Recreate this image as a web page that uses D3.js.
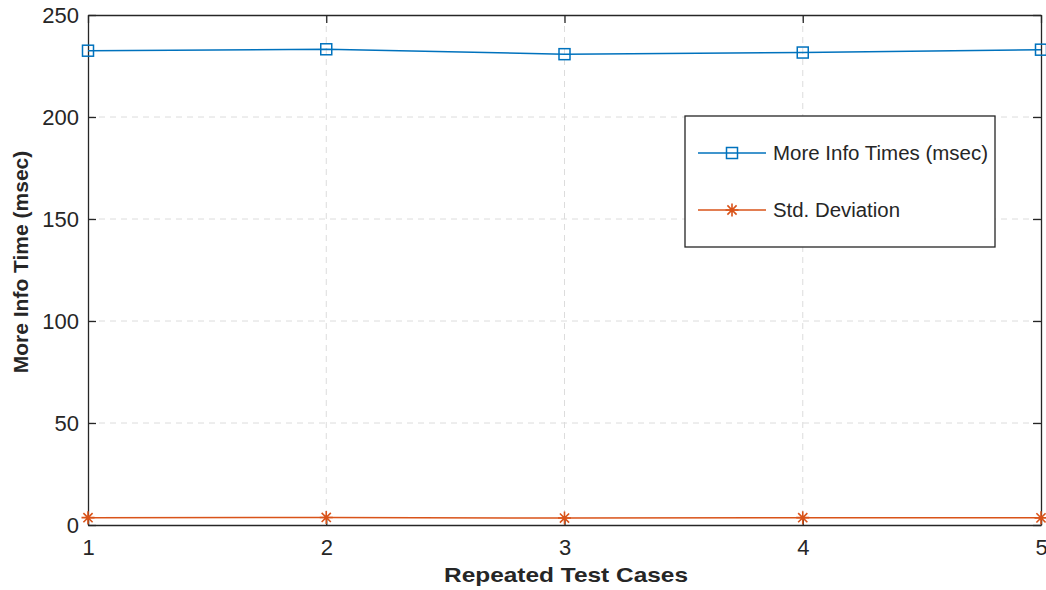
<!DOCTYPE html>
<html>
<head>
<meta charset="utf-8">
<script src="https://cdn.jsdelivr.net/npm/d3@7"></script>
<style>
  body { margin: 0; background: #fff; }
  text { font-family: "Liberation Sans", Arial, sans-serif; fill: #262626; }
</style>
</head>
<body>
<div id="chart"></div>
<script>
// data
var testCases = [1, 2, 3, 4, 5];
var moreInfoTimes = [232.5, 233.2, 230.8, 231.6, 233.0];
var stdDeviation = [3.6, 3.7, 3.4, 3.6, 3.5];
var yTicks = [0, 50, 100, 150, 200, 250];
var seriesNames = ["More Info Times (msec)", "Std. Deviation"];

var W = 1046, H = 590;
var margin = {left: 88, right: 5, top: 15, bottom: 65};
var width = W - margin.left - margin.right,
    height = H - margin.top - margin.bottom;

var svg = d3.select("#chart").append("svg")
    .attr("width", W).attr("height", H);
var g = svg.append("g").attr("transform", "translate(" + margin.left + "," + margin.top + ")");

var x = d3.scaleLinear().domain([1, 5]).range([0, width]);
var y = d3.scaleLinear().domain([0, 250]).range([height, 0]);

//grid
g.append("g").selectAll("line").data(testCases.slice(1, -1)).join("line")
  .attr("x1", d => x(d)).attr("x2", d => x(d))
  .attr("y1", 0).attr("y2", height)
  .attr("stroke", "#dcdcdc").attr("stroke-dasharray", "6,5");
g.append("g").selectAll("line").data(yTicks.slice(1, -1)).join("line")
  .attr("y1", d => y(d)).attr("y2", d => y(d))
  .attr("x1", 0).attr("x2", width)
  .attr("stroke", "#dcdcdc").attr("stroke-dasharray", "6,5");

//axes, MATLAB style with inner ticks on all sides
var tick = 8;
g.append("g").attr("transform", "translate(0," + height + ")")
  .call(d3.axisBottom(x).tickValues(testCases).tickSizeInner(-tick).tickSizeOuter(0).tickPadding(14).tickFormat(d3.format("d")));
g.append("g").attr("transform", "translate(0,0)")
  .call(d3.axisTop(x).tickValues(testCases).tickSizeInner(-tick).tickSizeOuter(0).tickFormat(""));
g.append("g")
  .call(d3.axisLeft(y).tickValues(yTicks).tickSizeInner(-tick).tickSizeOuter(0).tickPadding(9));
g.append("g").attr("transform", "translate(" + width + ",0)")
  .call(d3.axisRight(y).tickValues(yTicks).tickSizeInner(-tick).tickSizeOuter(0).tickFormat(""));

g.selectAll(".domain").attr("stroke", "#262626").attr("stroke-width", 1.3);
g.selectAll(".tick line").attr("stroke", "#262626").attr("stroke-width", 1.3);
g.selectAll(".tick text").attr("font-size", 22).attr("fill", "#262626")
  .attr("font-family", "Liberation Sans, Arial, sans-serif");

//lines
var blue = "#0072BD", orange = "#D95319";
var line = d3.line().x((d, i) => x(testCases[i])).y(d => y(d));

g.append("path").datum(moreInfoTimes).attr("d", line)
  .attr("fill", "none").attr("stroke", blue).attr("stroke-width", 1.5);
g.append("path").datum(stdDeviation).attr("d", line)
  .attr("fill", "none").attr("stroke", orange).attr("stroke-width", 1.5);

function square(sel, cx, cy) {
  sel.append("rect").attr("x", cx - 5.5).attr("y", cy - 5.5)
    .attr("width", 11).attr("height", 11)
    .attr("fill", "none").attr("stroke", blue).attr("stroke-width", 1.5);
}
function star(sel, cx, cy) {
  var r = 6.5, d = r * 0.707;
  var p = "M" + (cx - r) + "," + cy + "H" + (cx + r) +
          "M" + cx + "," + (cy - r) + "V" + (cy + r) +
          "M" + (cx - d) + "," + (cy - d) + "L" + (cx + d) + "," + (cy + d) +
          "M" + (cx - d) + "," + (cy + d) + "L" + (cx + d) + "," + (cy - d);
  sel.append("path").attr("d", p).attr("stroke", orange).attr("stroke-width", 1.6);
}
moreInfoTimes.forEach((v, i) => square(g, x(testCases[i]), y(v)));
stdDeviation.forEach((v, i) => star(g, x(testCases[i]), y(v)));

//labels
svg.append("text").attr("x", 566).attr("y", 582)
  .attr("text-anchor", "middle").attr("font-size", 21).attr("font-weight", "bold")
  .attr("textLength", 244).attr("lengthAdjust", "spacingAndGlyphs")
  .text("Repeated Test Cases");
svg.append("text").attr("transform", "translate(28,262) rotate(-90)")
  .attr("text-anchor", "middle").attr("font-size", 21).attr("font-weight", "bold")
  .text("More Info Time (msec)");

//legend
var lg = svg.append("g").attr("transform", "translate(685,116)");
lg.append("rect").attr("width", 310).attr("height", 131)
  .attr("fill", "#fff").attr("stroke", "#262626").attr("stroke-width", 1.3);
var rows = [37, 94];
var textW = [215, 127];
[0, 1].forEach(function (i) {
  var col = i == 0 ? blue : orange;
  lg.append("line").attr("x1", 13).attr("x2", 81).attr("y1", rows[i]).attr("y2", rows[i])
    .attr("stroke", col).attr("stroke-width", 1.5);
  if (i == 0) square(lg, 47, rows[i]); else star(lg, 47, rows[i]);
  lg.append("text").attr("x", 88).attr("y", rows[i] + 7).attr("font-size", 20)
    .attr("textLength", textW[i]).attr("lengthAdjust", "spacingAndGlyphs")
    .text(seriesNames[i]);
});
</script>
</body>
</html>
